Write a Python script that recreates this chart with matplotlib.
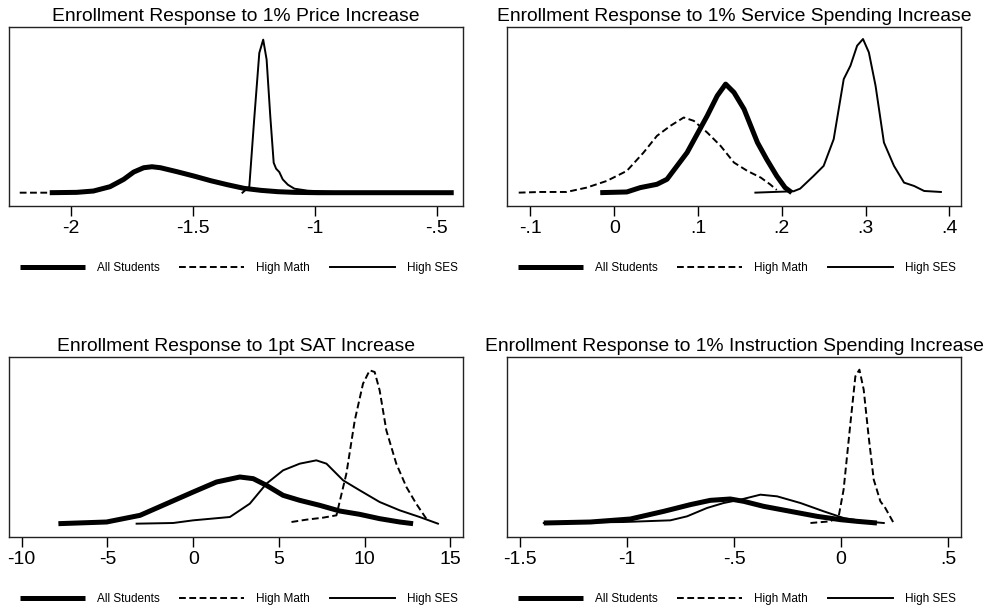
import matplotlib
matplotlib.use("Agg")
import matplotlib.pyplot as plt

plt.rcParams["font.family"] = ["Liberation Sans", "DejaVu Sans"]

# heights are relative kernel density values (no y scale shown)

# panel 1: price
price_all_x = [-2.087, -1.977, -1.908, -1.84, -1.784, -1.743, -1.702, -1.668, -1.633, -1.565,
               -1.496, -1.427, -1.359, -1.29, -1.221, -1.152, -1.084, -0.988, -0.431]
price_all_y = [0, 1, 5, 18, 40, 62, 75, 78, 75, 63, 50, 36, 24, 13, 7, 3, 1, 0, 0]
price_math_x = [-2.21, -2.087, -1.977, -1.908, -1.84, -1.784, -1.743, -1.702, -1.668, -1.633,
                -1.565, -1.496, -1.427, -1.359, -1.29, -1.221, -1.152, -1.084, -0.988, -0.45]
price_math_y = [0, 0, 1, 5, 18, 40, 62, 75, 78, 75, 63, 50, 36, 24, 13, 7, 3, 1, 0, 0]
price_ses_x = [-1.297, -1.269, -1.249, -1.228, -1.212, -1.198, -1.183, -1.169, -1.159, -1.146,
               -1.132, -1.111, -1.084, -1.029, -0.919, -0.85]
price_ses_y = [0, 18, 220, 420, 460, 400, 230, 90, 72, 62, 40, 24, 12, 6, 2, 0]

# panel 2: service spending
serv_all_x = [-0.0167, 0.015, 0.031, 0.051, 0.063, 0.075, 0.087, 0.099, 0.111, 0.123,
              0.133, 0.143, 0.155, 0.171, 0.182, 0.194, 0.204, 0.212]
serv_all_y = [0, 2, 15, 25, 40, 80, 120, 175, 230, 290, 325, 300, 250, 150, 100, 50, 15, 0]
serv_math_x = [-0.114, -0.088, -0.057, -0.033, -0.009, 0.015, 0.035, 0.051, 0.067, 0.083,
               0.095, 0.111, 0.127, 0.143, 0.159, 0.175, 0.186, 0.194]
serv_math_y = [0, 2, 2, 15, 35, 65, 120, 170, 200, 225, 215, 180, 140, 90, 65, 45, 25, 8]
serv_ses_x = [0.1685, 0.19, 0.214, 0.222, 0.238, 0.25, 0.262, 0.274, 0.282, 0.29,
              0.297, 0.304, 0.312, 0.322, 0.334, 0.346, 0.358, 0.37, 0.39]
serv_ses_y = [0, 2, 4, 12, 50, 80, 160, 340, 380, 440, 460, 420, 320, 150, 80, 30, 20, 5, 2]

# panel 3: SAT
sat_all_x = [-7.86, -5.05, -3.1, -1.55, 0, 1.36, 2.72, 3.5, 4.27, 5.24, 6.21, 7.38, 8.54,
             9.71, 10.87, 12.04, 12.82]
sat_all_y = [0, 5, 25, 60, 95, 125, 140, 135, 115, 85, 70, 55, 38, 28, 15, 5, 0]
sat_math_x = [5.73, 6.6, 7.57, 8.35, 8.93, 9.42, 9.9, 10.29, 10.58, 10.87, 11.26, 11.84,
              12.43, 13.0, 13.59]
sat_math_y = [5, 12, 18, 25, 150, 310, 420, 460, 455, 400, 280, 180, 110, 60, 15]
sat_ses_x = [-3.3, -1.17, 0, 2.14, 3.3, 4.27, 5.24, 6.21, 7.18, 7.77, 8.74, 9.71, 10.87,
             12.04, 13.2, 14.27]
sat_ses_y = [0, 2, 10, 20, 60, 120, 160, 180, 190, 180, 130, 100, 65, 40, 20, 0]

# panel 4: instruction spending
inst_all_x = [-1.39, -1.172, -0.985, -0.829, -0.705, -0.611, -0.518, -0.455, -0.362, -0.237,
              -0.112, -0.003, 0.075, 0.168]
inst_all_y = [0, 3, 12, 35, 55, 68, 72, 65, 50, 35, 20, 10, 5, 0]
inst_math_x = [-0.143, -0.05, -0.011, 0.012, 0.044, 0.067, 0.086, 0.106, 0.129, 0.153,
               0.184, 0.207, 0.246]
inst_math_y = [0, 5, 20, 100, 300, 440, 460, 400, 260, 130, 65, 45, 0]
inst_ses_x = [-1.39, -1.016, -0.798, -0.72, -0.627, -0.549, -0.471, -0.377, -0.299, -0.19,
              -0.081, 0.012, 0.106, 0.2]
inst_ses_y = [0, 3, 8, 20, 45, 60, 70, 85, 80, 60, 35, 15, 5, 0]

titles = [
    "Enrollment Response to 1% Price Increase",
    "Enrollment Response to 1% Service Spending Increase",
    "Enrollment Response to 1pt SAT Increase",
    "Enrollment Response to 1% Instruction Spending Increase",
]
series_labels = ["All Students", "High Math", "High SES"]

price_ticks = [-2, -1.5, -1, -0.5]
price_ticklabels = ["-2", "-1.5", "-1", "-.5"]
serv_ticks = [-0.1, 0, 0.1, 0.2, 0.3, 0.4]
serv_ticklabels = ["-.1", "0", ".1", ".2", ".3", ".4"]
sat_ticks = [-10, -5, 0, 5, 10, 15]
sat_ticklabels = ["-10", "-5", "0", "5", "10", "15"]
inst_ticks = [-1.5, -1, -0.5, 0, 0.5]
inst_ticklabels = ["-1.5", "-1", "-.5", "0", ".5"]

W, H = 991, 612
fig = plt.figure(figsize=(W / 100, H / 100), dpi=100)


def add_panel(left, top, right, bottom):
    return fig.add_axes([left / W, 1 - bottom / H, (right - left) / W, (bottom - top) / H])


panels = [
    (add_panel(9, 27, 463, 206), (price_all_x, price_all_y), (price_math_x, price_math_y),
     (price_ses_x, price_ses_y), (-2.254, -0.393), (-40, 498), price_ticks, price_ticklabels),
    (add_panel(507, 27, 961, 206), (serv_all_x, serv_all_y), (serv_math_x, serv_math_y),
     (serv_ses_x, serv_ses_y), (-0.128, 0.414), (-40, 496), serv_ticks, serv_ticklabels),
    (add_panel(9, 357, 463, 537), (sat_all_x, sat_all_y), (sat_math_x, sat_math_y),
     (sat_ses_x, sat_ses_y), (-10.74, 15.73), (-40, 500), sat_ticks, sat_ticklabels),
    (add_panel(507, 357, 961, 537), (inst_all_x, inst_all_y), (inst_math_x, inst_math_y),
     (inst_ses_x, inst_ses_y), (-1.562, 0.561), (-42, 498), inst_ticks, inst_ticklabels),
]

for (ax, all_s, math_s, ses_s, xlim, ylim, ticks, ticklabels), title in zip(panels, titles):
    ax.plot(math_s[0], math_s[1], color="black", lw=1.4, dashes=(3.5, 1.8),
            label=series_labels[1], zorder=2)
    ax.plot(all_s[0], all_s[1], color="black", lw=3.6, solid_capstyle="butt",
            label=series_labels[0], zorder=3)
    ax.plot(ses_s[0], ses_s[1], color="black", lw=1.4, label=series_labels[2], zorder=4)
    ax.set_xlim(*xlim)
    ax.set_ylim(*ylim)
    ax.set_xticks(ticks)
    ax.set_xticklabels(ticklabels)
    ax.set_yticks([])
    ax.tick_params(axis="x", direction="out", length=7, width=1, labelsize=14, pad=3)
    for sp in ax.spines.values():
        sp.set_color("#222222")
        sp.set_linewidth(1.0)
    ax.set_title(title, fontsize=13.9, pad=4)
    handles, labels = ax.get_legend_handles_labels()
    order = [1, 0, 2]
    ax.legend([handles[i] for i in order], [labels[i] for i in order],
              loc="center", bbox_to_anchor=(0.506, -0.345), ncol=3, frameon=False,
              fontsize=8.5, handlelength=5.5, handletextpad=1.0, columnspacing=1.7)

fig.savefig("out.png", dpi=100)
